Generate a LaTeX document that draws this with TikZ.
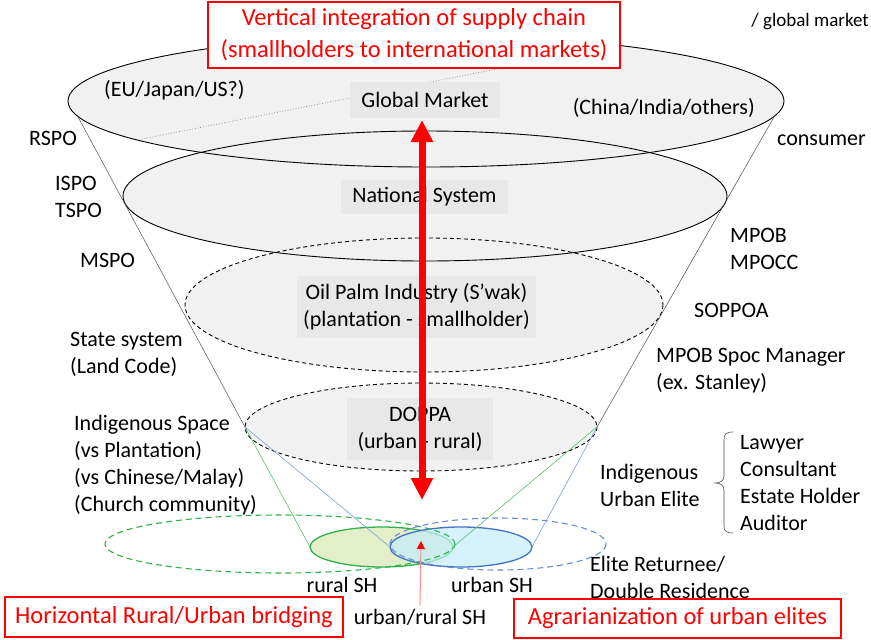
\documentclass[tikz,border=0pt]{standalone}
\usepackage{fontspec}
\setmainfont{Carlito}
\usetikzlibrary{arrows.meta}

\definecolor{ellgray}{HTML}{F1F1F1}
\definecolor{boxgray}{HTML}{E8E8E8}
\definecolor{ruralfill}{HTML}{E2EFC9}
\definecolor{urbanfill}{HTML}{C4EDFB}
\definecolor{ruralline}{HTML}{2DB34A}
\definecolor{urbanline}{HTML}{4472C4}

\begin{document}
\begin{tikzpicture}[x=1pt, y=-1pt,
    every node/.style={font=\fontsize{22}{27}\selectfont},
    lbl/.style={anchor=west, align=left, inner sep=0pt},
    tag/.style={fill=boxgray, align=center, inner sep=0pt},
    redbox/.style={draw=red, line width=1.3pt, fill=white, text=red, align=center, inner sep=0pt, font=\fontsize{24.5}{32}\selectfont},
    ellline/.style={line width=0.9pt},
    dashline/.style={line width=0.9pt, dash pattern=on 4pt off 3pt},
    coneline/.style={gray!60!black, line width=0.5pt}]

    \useasboundingbox (0,0) rectangle (871,640);

    % Layer fills (all first, so every outline stays visible)
    \fill[ellgray] (426,101) ellipse [x radius=358, y radius=66];
    \fill[ellgray] (425,196) ellipse [x radius=302, y radius=65];
    \fill[ellgray] (424,305) ellipse [x radius=239, y radius=67];
    \fill[ellgray] (421,427) ellipse [x radius=176, y radius=44];

    % Layer outlines
    \draw[ellline] (426,101) ellipse [x radius=358, y radius=66];
    \draw[ellline] (425,196) ellipse [x radius=302, y radius=65];
    \draw[dashline] (424,305) ellipse [x radius=239, y radius=67];
    \draw[dashline] (421,427) ellipse [x radius=176, y radius=44];

    % Dotted divider in the global market
    \coordinate (divA) at (142,139);
    \coordinate (divB) at (522,64);
    \draw[gray, dotted, line width=0.7pt] (divA) -- (divB);

    % Cone corners
    \coordinate (gmL) at (77,115);
    \coordinate (gmR) at (774,117);
    \coordinate (dpL) at (245,427);
    \coordinate (dpR) at (597,427);
    \coordinate (grL) at (310,547);
    \coordinate (grR) at (453,547);
    \coordinate (blL) at (390,547);
    \coordinate (blR) at (532,547);

    % Smallholder ellipses
    \filldraw[fill=ruralfill, draw=ruralline, line width=1.3pt] (381.5,547) ellipse [x radius=71.5, y radius=20];
    \filldraw[fill=urbanfill, fill opacity=0.7, draw=urbanline, line width=1.3pt] (461,547) ellipse [x radius=71, y radius=20];
    \draw[ruralline, line width=1.1pt, dash pattern=on 6pt off 4pt] (280,544) ellipse [x radius=175, y radius=29];
    \draw[urbanline!80, line width=1.1pt, dash pattern=on 6pt off 4pt] (498,544) ellipse [x radius=108, y radius=26];

    % Cone lines
    \draw[coneline] (gmL) -- (dpL);
    \draw[coneline] (gmR) -- (dpR);
    \draw[ruralline!80, line width=0.6pt] (dpL) -- (grL);
    \draw[ruralline!80, line width=0.6pt] (dpR) -- (grR);
    \draw[urbanline!70, line width=0.6pt] (dpL) -- (blL);
    \draw[urbanline!70, line width=0.6pt] (dpR) -- (blR);

    % Layer titles
    \node[tag, minimum width=150pt, minimum height=36pt] (global) at (425,100) {Global Market};
    \node[tag, minimum width=167pt, minimum height=34pt] (national) at (424.5,196.5) {National System};
    \node[tag, minimum width=239pt, minimum height=62pt] (industry) at (416.5,307) {Oil Palm Industry (S’wak)\\(plantation - smallholder)};
    \node[tag, minimum width=146pt, minimum height=62pt] (doppa) at (420,429) {DOPPA\\(urban - rural)};

    % Vertical integration arrow
    \coordinate (arrTop) at (422,120);
    \coordinate (arrBot) at (422,500);
    \draw[red, line width=7pt, {Triangle[length=22pt, width=21pt]}-{Triangle[length=22pt, width=21pt]}] (arrBot) -- (arrTop);

    % Small arrow to the overlap
    \coordinate (olTip) at (421,541);
    \node (mixed) at (420,617) {urban/rural SH};
    \draw[red!45, line width=1pt, -{Triangle[length=8pt, width=8pt, red]}] (mixed.north) -- (olTip);

    % Left labels
    \node[lbl] (rspo) at (29,138) {RSPO};
    \node[lbl] (ispo) at (55,197) {ISPO\\TSPO};
    \node[lbl] (mspo) at (80,260) {MSPO};
    \node[lbl] (state) at (70,354) {State system\\(Land Code)};
    \node[lbl] (indig) at (74,465) {Indigenous Space\\(vs Plantation)\\(vs Chinese/Malay)\\(Church community)};
    \node[lbl] (eu) at (104,90) {(EU/Japan/US?)};

    % Right labels
    \node[lbl, anchor=east] (china) at (755,108) {(China/India/others)};
    \node[lbl] (consumer) at (777,140) {consumer};
    \node[lbl, anchor=east, font=\fontsize{19}{23}\selectfont] (gmkt) at (869,22) {/ global market};
    \node[lbl] (mpob) at (730,249) {MPOB\\MPOCC};
    \node[lbl] (soppoa) at (694,310) {SOPPOA};
    \node[lbl] (spoc) at (656,371) {MPOB Spoc Manager\\(ex. Stanley)};
    \node[lbl] (elite) at (600,485) {Indigenous\\Urban Elite};
    \node[lbl] (jobs) at (740,483) {Lawyer\\Consultant\\Estate Holder\\Auditor};
    \node[lbl] (returnee) at (590,577) {Elite Returnee/\\Double Residence};

    % Bracket
    \draw[gray!60!black, line width=0.6pt] (733,432) .. controls (726,432) and (724,434) .. (724,440) -- (724,476) .. controls (724,481) and (720,483) .. (715,483) .. controls (720,483) and (724,485) .. (724,490) -- (724,526) .. controls (724,531) and (726,533) .. (733,533);

    % Smallholder labels
    \node (rural) at (342,585) {rural SH};
    \node (urban) at (492,585) {urban SH};

    % Red headline boxes
    \node[redbox, minimum width=412pt, minimum height=66pt] (vertical) at (414,35) {Vertical integration of supply chain\\(smallholders to international markets)};
    \node[redbox, minimum width=338pt, minimum height=40pt] (horizontal) at (174,617) {Horizontal Rural/Urban bridging};
    \node[redbox, minimum width=327pt, minimum height=39pt] (agrarian) at (677.5,618.5) {Agrarianization of urban elites};

\end{tikzpicture}
\end{document}
